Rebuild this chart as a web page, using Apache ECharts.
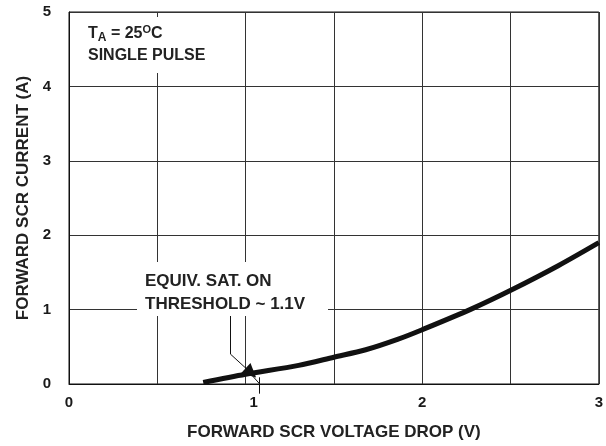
<!DOCTYPE html>
<html>
<head>
<meta charset="utf-8">
<script src="https://cdn.jsdelivr.net/npm/echarts@6/dist/echarts.min.js"></script>
<style>
  html, body { margin: 0; padding: 0; background: #fff; }
  #chart { width: 606px; height: 446px; }
</style>
</head>
<body>
<div id="chart"></div>
<script>
// forward voltage (V) vs forward current (A)
const voltage = [0.76, 1.0, 1.3, 1.5, 1.68, 1.86, 2.0, 2.28, 2.51, 2.77, 3.0]
const current = [0.02, 0.13, 0.25, 0.36, 0.46, 0.60, 0.73, 1.01, 1.27, 1.59, 1.90]

// leader from the threshold note down to the curve
const leaderPath = [[0.915, 0.95], [0.915, 0.40]]
const leaderArrow = [[0.915, 0.40], [1.03, 0.15]]
const leaderTail = [[1.02, 0.16], [1.08, 0.0]]
const thresholdMark = [[1.08, 0.09], [1.08, -0.13]]

const xTicks = [0, 1, 2, 3]
const yTicks = [0, 1, 2, 3, 4, 5]

const font = 'Liberation Sans, Arial, Helvetica, sans-serif'

const chart = echarts.init(document.getElementById('chart'))

const option = {
  animation: false,
  backgroundColor: '#fff',
  grid: {
    left: 69,
    right: 4,
    top: 12,
    bottom: 59,
    show: true,
    borderColor: '#111',
    borderWidth: 1
  },
  xAxis: {
    type: 'value',
    min: 0,
    max: 3,
    interval: 0.5,
    name: 'FORWARD SCR VOLTAGE DROP (V)',
    nameLocation: 'middle',
    nameGap: 40,
    nameTextStyle: { fontFamily: font, fontWeight: 'bold', fontSize: 17, color: '#222' },
    axisLine: { lineStyle: { color: '#111', width: 1 } },
    axisTick: { show: false },
    splitLine: { lineStyle: { color: '#333', width: 1 } },
    axisLabel: {
      margin: 11,
      fontFamily: font,
      fontWeight: 'bold',
      fontSize: 15,
      color: '#1a1a1a',
      formatter: v => {
        if (!xTicks.includes(v)) return ''
        return v === 1 ? '{one|1}' : String(v)
      },
      rich: {
        one: { fontFamily: font, fontWeight: 'bold', fontSize: 15, color: '#1a1a1a', padding: [0, 0, 0, 16] }
      }
    }
  },
  yAxis: {
    type: 'value',
    min: 0,
    max: 5,
    interval: 1,
    name: 'FORWARD SCR CURRENT (A)',
    nameLocation: 'middle',
    nameGap: 36,
    nameTextStyle: { fontFamily: font, fontWeight: 'bold', fontSize: 17, color: '#222' },
    axisLine: { lineStyle: { color: '#111', width: 1 } },
    axisTick: { show: false },
    splitLine: { lineStyle: { color: '#333', width: 1 } },
    axisLabel: {
      margin: 18,
      fontFamily: font,
      fontWeight: 'bold',
      fontSize: 15,
      color: '#1a1a1a',
      formatter: v => yTicks.includes(v) ? String(v) : ''
    }
  },
  graphic: [
    {
      type: 'rect',
      left: 80,
      top: 17,
      z: 10,
      shape: { width: 146, height: 56 },
      style: { fill: '#fff' }
    },
    {
      type: 'text',
      left: 88,
      top: 24,
      z: 11,
      style: {
        text: '{t|T}{s|A}{t| = 25}{o|O}{t|C}\n{t|SINGLE PULSE}',
        rich: {
          t: { fontFamily: font, fontWeight: 'bold', fontSize: 16, fill: '#222', lineHeight: 22 },
          s: { fontFamily: font, fontWeight: 'bold', fontSize: 12, fill: '#222', padding: [8, 0, 0, 0], lineHeight: 22 },
          o: { fontFamily: font, fontWeight: 'bold', fontSize: 11, fill: '#222', padding: [0, 0, 9, 0], lineHeight: 22 }
        }
      }
    },
    {
      type: 'rect',
      left: 137,
      top: 262,
      z: 10,
      shape: { width: 191, height: 54 },
      style: { fill: '#fff' }
    },
    {
      type: 'text',
      left: 145,
      top: 270,
      z: 11,
      style: {
        text: 'EQUIV. SAT. ON\nTHRESHOLD ~ 1.1V',
        fontFamily: font,
        fontWeight: 'bold',
        fontSize: 17,
        lineHeight: 23,
        fill: '#222'
      }
    }
  ],
  series: [
    {
      name: 'current',
      type: 'line',
      smooth: 0.3,
      symbol: 'none',
      data: voltage.map((v, i) => [v, current[i]]),
      lineStyle: { color: '#111', width: 5 },
      z: 5
    },
    {
      type: 'lines',
      coordinateSystem: 'cartesian2d',
      polyline: false,
      clip: false,
      symbol: 'none',
      lineStyle: { color: '#111', width: 1, opacity: 1 },
      data: [{ coords: leaderPath }, { coords: leaderTail }, { coords: thresholdMark }],
      z: 6
    },
    {
      type: 'lines',
      coordinateSystem: 'cartesian2d',
      polyline: false,
      clip: false,
      symbol: ['none', 'triangle'],
      symbolSize: [9, 14],
      lineStyle: { color: '#111', width: 1, opacity: 1 },
      data: [{ coords: leaderArrow }],
      z: 7
    }
  ]
}

chart.setOption(option)
</script>
</body>
</html>
